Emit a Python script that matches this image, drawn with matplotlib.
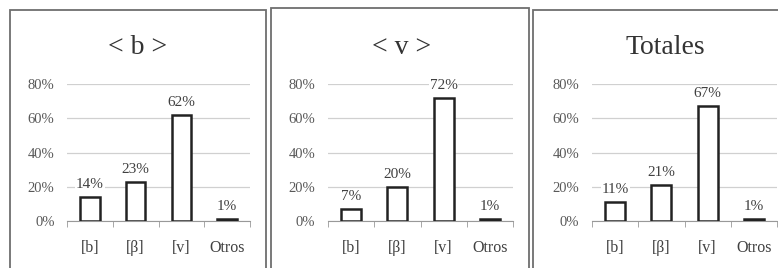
import matplotlib.pyplot as plt
from matplotlib.patches import Rectangle
from matplotlib.ticker import FixedLocator, NullFormatter

categories = ['[b]', '[β]', '[v]', 'Otros']
titles = ['< b >', '< v >', 'Totales']
vals_b = [14, 23, 62, 1]
vals_v = [7, 20, 72, 1]
vals_tot = [11, 21, 67, 1]
yticks = [0, 20, 40, 60, 80]

plt.rcParams['font.family'] = ['Liberation Serif', 'DejaVu Serif']

W, H = 778, 268
fig = plt.figure(figsize=(W/100, H/100), dpi=100)
fig.set_facecolor('w')

# panel frames (pixels: x0, y0, x1, y1)
frames = [(10, 10, 266, 280), (271, 8, 529, 280), (533, 10, 790, 280)]
for x0, y0, x1, y1 in frames:
    fig.patches.append(Rectangle((x0/W, 1-y1/H), (x1-x0)/W, (y1-y0)/H,
                                 transform=fig.transFigure, fill=False,
                                 edgecolor='#6e6e6e', lw=1.3))

# axes (pixels: left, right), shared top/bottom
ax_px = [(67, 250), (328, 513), (592, 777)]
top_px, bot_px = 84, 221
title_x = [138, 402, 665]

gray = '#595959'
for i, (vals, ttl) in enumerate(zip([vals_b, vals_v, vals_tot], titles)):
    l, r = ax_px[i]
    ax = fig.add_axes([l/W, 1-bot_px/H, (r-l)/W, (bot_px-top_px)/H])
    x = range(len(categories))
    ax.bar(x, vals, width=0.43, color='white', edgecolor='#222222', lw=1.8, zorder=3)
    for xi, v in zip(x, vals):
        ax.text(xi, v + 3.5, f'{v}%', ha='center', va='bottom', fontsize=11,
                color='#404040', zorder=4,
                bbox=dict(facecolor='white', edgecolor='none', pad=0.5))
    ax.set_xlim(-0.5, 3.5)
    ax.set_ylim(0, 80)
    ax.set_yticks(yticks)
    ax.set_yticklabels([f'{t}%' for t in yticks], fontsize=10.5, color=gray)
    ax.grid(axis='y', color='#d0d0d0', lw=0.9, zorder=0)
    ax.set_xticks(list(x))
    ax.set_xticklabels(categories, fontsize=11.5, color='#404040')
    ax.tick_params(axis='x', which='major', length=0, pad=14)
    ax.xaxis.set_minor_locator(FixedLocator([-0.5, 0.5, 1.5, 2.5, 3.5]))
    ax.xaxis.set_minor_formatter(NullFormatter())
    ax.tick_params(axis='x', which='minor', length=4, color='#999999', direction='out')
    ax.tick_params(axis='y', length=0, pad=9)
    for s in ['top', 'right', 'left']:
        ax.spines[s].set_visible(False)
    ax.spines['bottom'].set_color('#999999')
    ax.set_facecolor('none')
    fig.text(title_x[i]/W, 1-47/H, ttl, ha='center', va='center', fontsize=20, color='#333333')

fig.savefig('out.png', dpi=100)
